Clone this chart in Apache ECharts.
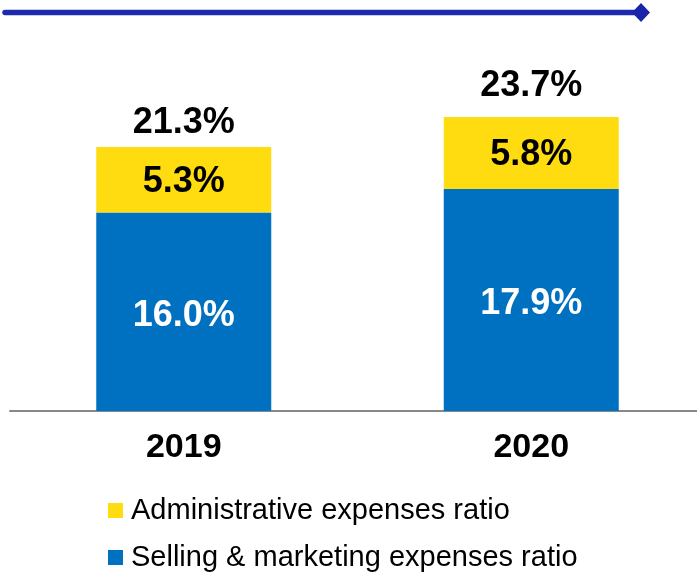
<!DOCTYPE html>
<html>
<head>
<meta charset="utf-8">
<script src="https://cdn.jsdelivr.net/npm/echarts@6/dist/echarts.min.js"></script>
<style>html,body{margin:0;padding:0;background:#fff;}#c{width:697px;height:575px;}</style>
</head>
<body>
<div id="c"></div>
<script>
var categories = ['2019', '2020'];
var sellingRatio = [16.0, 17.9];
var adminRatio = [5.3, 5.8];
var totalRatio = [21.3, 23.7];
var seriesNames = ['Selling & marketing expenses ratio', 'Administrative expenses ratio'];

var FONT = '"Liberation Sans", Arial, sans-serif';
var chart = echarts.init(document.getElementById('c'));
var totalDist = [6, 13];
var legendBase = {
  orient: 'horizontal', left: 104,
  itemWidth: 15, itemHeight: 15, padding: [5, 5, 5, 4],
  textStyle: { fontFamily: FONT, fontSize: 29, color: '#000', padding: [0, 0, 0, 3] },
  icon: 'rect'
};
chart.setOption({
  animation: false,
  grid: { left: 10, right: -8, top: 39, bottom: 164, outerBoundsMode: 'none', containLabel: false },
  legend: [
    Object.assign({}, legendBase, { top: 491, data: [seriesNames[1]] }),
    Object.assign({}, legendBase, { top: 538, data: [seriesNames[0]] })
  ],
  xAxis: {
    type: 'category', data: categories,
    axisLine: { lineStyle: { color: '#888', width: 2 } },
    axisTick: { show: false },
    axisLabel: { fontFamily: FONT, fontSize: 34, fontWeight: 'bold', color: '#000', margin: 20 }
  },
  yAxis: { type: 'value', min: 0, max: 30, show: false, splitLine: { show: false } },
  graphic: [
    { type: 'line', shape: { x1: 5, y1: 12.5, x2: 636, y2: 12.5 }, style: { stroke: '#1E2AAE', lineWidth: 5.5, lineCap: 'round' } },
    { type: 'polygon', shape: { points: [[641, 3], [650, 12.5], [641, 22], [632, 12.5]] }, style: { fill: '#1A24A8' } }
  ],
  series: [
    {
      name: seriesNames[0], type: 'bar', stack: 'a', barWidth: 175, data: sellingRatio,
      itemStyle: { color: '#0070C0' },
      label: { show: true, position: 'inside', offset: [0, 4], formatter: function (p) { return p.value.toFixed(1) + '%'; },
        fontFamily: FONT, fontSize: 36, fontWeight: 'bold', color: '#fff' }
    },
    {
      name: seriesNames[1], type: 'bar', stack: 'a', barWidth: 175, data: adminRatio,
      itemStyle: { color: '#FEDC10' },
      label: { show: true, position: 'inside', offset: [0, 2], formatter: function (p) { return p.value.toFixed(1) + '%'; },
        fontFamily: FONT, fontSize: 36, fontWeight: 'bold', color: '#000' }
    },
    {
      name: 'total', type: 'scatter', symbolSize: 0, silent: true,
      itemStyle: { opacity: 1 },
      data: totalRatio.map(function (v, i) {
        return { value: v, label: { show: true, position: 'top', distance: totalDist[i], color: '#000',
          fontFamily: FONT, fontSize: 36, fontWeight: 'bold' } };
      }),
      label: { show: true, position: 'top', formatter: function (p) { return p.value.toFixed(1) + '%'; },
        fontFamily: FONT, fontSize: 36, fontWeight: 'bold', color: '#000' }
    }
  ]
});
</script>
</body>
</html>
